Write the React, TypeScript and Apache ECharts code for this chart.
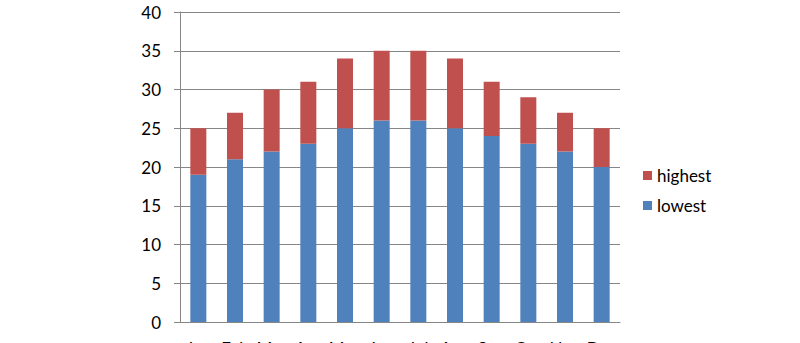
import React, { useEffect, useRef } from "react";
import * as echarts from "echarts";

const months = ["Jan", "Feb", "Mar", "Apr", "May", "Jun", "Jul", "Aug", "Sep", "Oct", "Nov", "Dec"];
const lowest = [19, 21, 22, 23, 25, 26, 26, 25, 24, 23, 22, 20];
const highest = [6, 6, 8, 8, 9, 9, 9, 9, 7, 6, 5, 5];
const yTicks = { min: 0, max: 40, interval: 5 };

export default function App() {
  const ref = useRef<HTMLDivElement>(null);
  useEffect(() => {
    if (!ref.current) return;
    const chart = echarts.init(ref.current, null, { renderer: "svg" });
    const font = "Lato, 'Open Sans', sans-serif";
    chart.setOption({
      animation: false,
      backgroundColor: "#ffffff",
      grid: { left: 180, right: 180, top: 12, bottom: 21, containLabel: false, outerBoundsMode: "none" },
      legend: {
        orient: "vertical",
        left: 638,
        top: 162,
        itemWidth: 9,
        itemHeight: 9,
        itemGap: 13,
        icon: "rect",
        data: ["highest", "lowest"],
        textStyle: { fontFamily: font, fontSize: 17, color: "#000" },
      },
      xAxis: {
        type: "category",
        data: months,
        axisLine: { lineStyle: { color: "#868686" } },
        axisTick: { length: 6, lineStyle: { color: "#868686" } },
        axisLabel: { interval: 0, margin: 18, fontFamily: font, fontSize: 17, color: "#000" },
      },
      yAxis: {
        type: "value",
        min: yTicks.min,
        max: yTicks.max,
        interval: yTicks.interval,
        axisLine: { show: true, lineStyle: { color: "#868686" } },
        axisTick: { show: true, length: 6, lineStyle: { color: "#868686" } },
        splitLine: { lineStyle: { color: "#868686" } },
        axisLabel: { margin: 19, fontFamily: font, fontSize: 17, color: "#000" },
      },
      series: [
        {
          name: "lowest",
          type: "bar",
          stack: "t",
          barWidth: 16,
          data: lowest,
          itemStyle: { color: "#4F81BD" },
        },
        {
          name: "highest",
          type: "bar",
          stack: "t",
          barWidth: 16,
          data: highest,
          itemStyle: { color: "#C0504D" },
        },
      ],
    });
    return () => chart.dispose();
  }, []);
  return (
    <div
      ref={ref}
      style={{ position: "fixed", left: 0, top: 0, width: 800, height: 343 }}
    />
  );
}
